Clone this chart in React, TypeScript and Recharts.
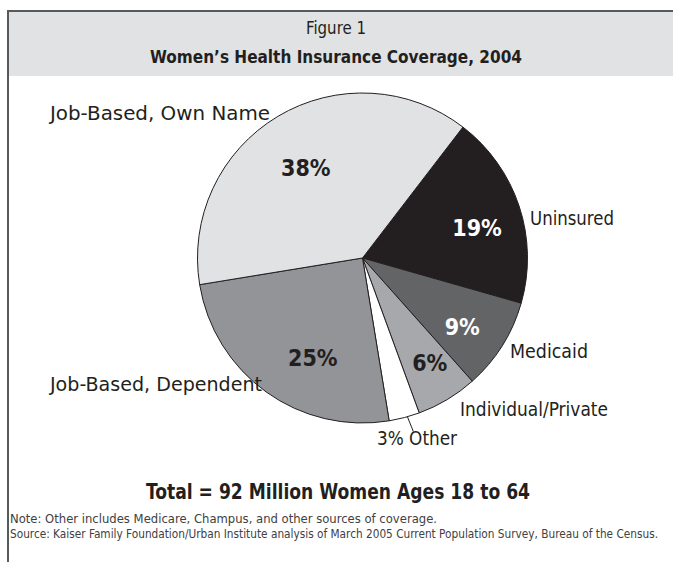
import { PieChart, Pie, Cell } from 'recharts';

const categories = ['Uninsured', 'Medicaid', 'Individual/Private', 'Other', 'Job-Based, Dependent', 'Job-Based, Own Name'];
const shares = [19, 9, 6, 3, 25, 38];
const fills = ['#231f20', '#636466', '#a6a8ab', '#ffffff', '#929497', '#e1e2e4'];
const pctColors = ['#ffffff', '#ffffff', '#231f20', '#231f20', '#231f20', '#231f20'];

const data = categories.map((name, i) => ({ name, value: shares[i] }));

// no condensed Myriad here, so squeeze DejaVu Condensed to the widths of the original
const FONT = "'DejaVu Sans Condensed', 'DejaVu Sans', sans-serif";
const INK = '#231f20';
const RAD = Math.PI / 180;

// inside percentage: fraction of radius, angle nudge (deg)
const innerPos: Record<string, { r: number; shift: number }> = {
  'Uninsured': { r: 0.72, shift: -3 },
  'Medicaid': { r: 0.73, shift: -2 },
  'Individual/Private': { r: 0.75, shift: 2 },
  'Job-Based, Dependent': { r: 0.67, shift: 9 },
  'Job-Based, Own Name': { r: 0.65, shift: 1 },
};

// outside category labels
const outerPos: Record<string, { x: number; y: number; w: number }> = {
  'Uninsured': { x: 530, y: 225, w: 84 },
  'Medicaid': { x: 510, y: 358, w: 78 },
  'Individual/Private': { x: 460, y: 416, w: 148 },
  'Job-Based, Dependent': { x: 50, y: 391, w: 212 },
  'Job-Based, Own Name': { x: 50, y: 120, w: 220 },
};

const renderLabel = (props: any) => {
  const { cx, cy, midAngle, outerRadius, index, name, value } = props;
  const inner = innerPos[name];
  const outer = outerPos[name];
  if (!inner) {
    // the thin slice gets a leader line and a combined label
    const ex = cx + outerRadius * Math.cos(-midAngle * RAD) + 3;
    const ey = cy - outerRadius * Math.sin(midAngle * RAD) - 1;
    return (
      <g>
        <line x1={ex} y1={ey} x2={ex + 6} y2={ey + 15} stroke={INK} strokeWidth={1} />
        <text x={377} y={445} fill={INK} fontFamily={FONT} fontSize={20}
          textLength={80} lengthAdjust="spacingAndGlyphs">
          {value}% {name}
        </text>
      </g>
    );
  }
  const a = (midAngle + inner.shift) * RAD;
  const r = outerRadius * inner.r;
  const x = cx + r * Math.cos(a);
  const y = cy - r * Math.sin(a);
  return (
    <g>
      <text x={x} y={y + 9} textAnchor="middle" fill={pctColors[index]}
        fontFamily={FONT} fontSize={23} fontWeight="bold">
        {value}%
      </text>
      <text x={outer.x} y={outer.y} fill={INK} fontFamily={FONT} fontSize={20}
        textLength={outer.w} lengthAdjust="spacingAndGlyphs">
        {name}
      </text>
    </g>
  );
};

export default function App() {
  return (
    <div style={{ position: 'absolute', left: 0, top: 0, width: 673, height: 562, background: '#fff' }}>
      <svg width={673} height={562} style={{ position: 'absolute', left: 0, top: 0 }} fontFamily={FONT}>
        <rect x={8} y={12} width={665} height={64} fill="#e1e2e3" />
        <line x1={7} y1={11} x2={673} y2={11} stroke="#58595b" strokeWidth={2} />
        <line x1={8} y1={10} x2={8} y2={562} stroke="#58595b" strokeWidth={2} />
        <text x={336} y={34} textAnchor="middle" fontSize={18} fill={INK}
          textLength={60} lengthAdjust="spacingAndGlyphs">Figure 1</text>
        <text x={336} y={63} textAnchor="middle" fontSize={18} fontWeight="bold" fill={INK}
          textLength={372} lengthAdjust="spacingAndGlyphs">Women’s Health Insurance Coverage, 2004</text>
        <text x={338} y={499} textAnchor="middle" fontSize={22} fontWeight="bold" fill={INK}
          textLength={384} lengthAdjust="spacingAndGlyphs">Total = 92 Million Women Ages 18 to 64</text>
        <text x={10} y={523} fontSize={11.5} fill="#414042"
          textLength={427} lengthAdjust="spacingAndGlyphs">Note: Other includes Medicare, Champus, and other sources of coverage.</text>
        <text x={10} y={538} fontSize={11.5} fill="#414042"
          textLength={648} lengthAdjust="spacingAndGlyphs">Source: Kaiser Family Foundation/Urban Institute analysis of March 2005 Current Population Survey, Bureau of the Census.</text>
      </svg>
      <div style={{ position: 'absolute', left: 0, top: 0 }}>
        <PieChart width={673} height={562}>
          <Pie
            data={data}
            dataKey="value"
            nameKey="name"
            cx={357.5}
            cy={253}
            outerRadius={165}
            startAngle={52.5}
            endAngle={-307.5}
            stroke={INK}
            strokeWidth={1}
            label={renderLabel}
            labelLine={false}
            isAnimationActive={false}
          >
            {data.map((d, i) => (
              <Cell key={d.name} fill={fills[i]} />
            ))}
          </Pie>
        </PieChart>
      </div>
    </div>
  );
}
